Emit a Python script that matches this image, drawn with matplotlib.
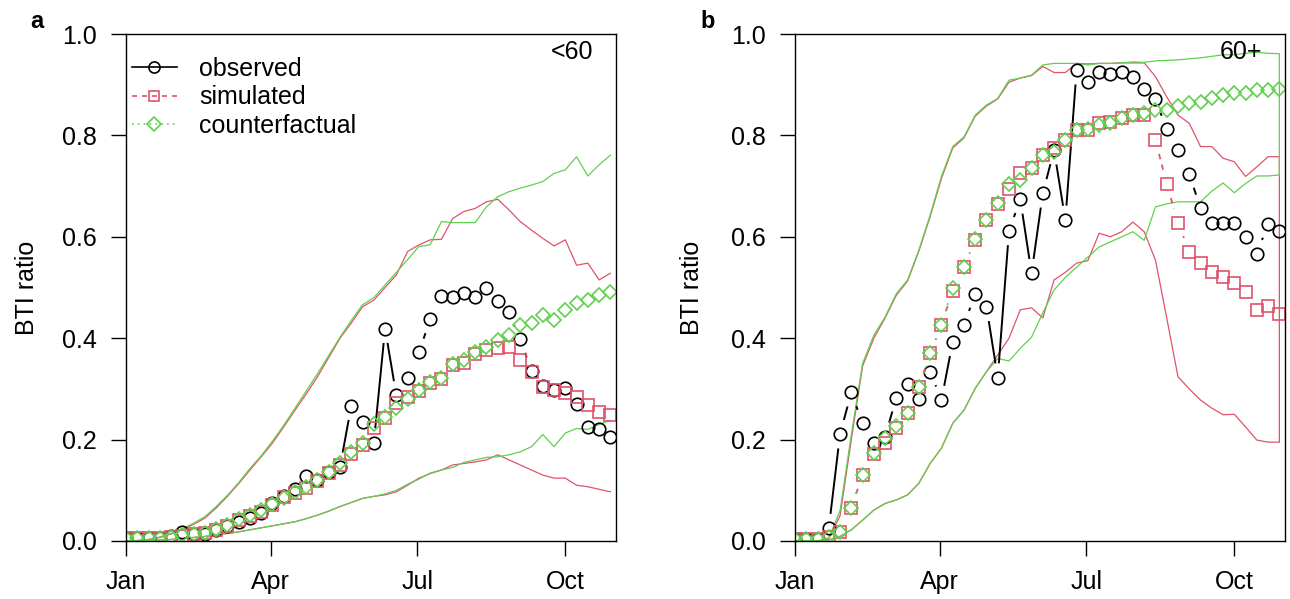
import numpy as np
import matplotlib
matplotlib.use("Agg")
import matplotlib.pyplot as plt
from matplotlib.collections import LineCollection
from matplotlib.lines import Line2D

plt.rcParams['font.family'] = ['Liberation Sans', 'DejaVu Sans']

RED = '#DF536B'
GREEN = '#61D04F'

# weekly values, week 0 = 1 Jan
weeks = np.arange(44)
month_days = [0, 90, 181, 273]
month_labels = ['Jan', 'Apr', 'Jul', 'Oct']

# ---- panel a (<60) ----
obs_a = [0.005, 0.005, 0.005, 0.006, 0.010, 0.017, 0.014, 0.013, 0.021, 0.030, 0.037, 0.046, 0.056, 0.074,
         0.088, 0.103, 0.129, 0.120, 0.137, 0.146, 0.267, 0.235, 0.194, 0.419, 0.287, 0.322, 0.372, 0.437,
         0.483, 0.481, 0.489, 0.482, 0.499, 0.473, 0.452, 0.398, 0.335, 0.305, 0.298, 0.302, 0.270, 0.225,
         0.220, 0.205]
sim_a = [0.005, 0.005, 0.005, 0.005, 0.007, 0.010, 0.013, 0.015, 0.022, 0.029, 0.041, 0.050, 0.058, 0.071,
         0.086, 0.094, 0.104, 0.118, 0.134, 0.150, 0.172, 0.190, 0.222, 0.243, 0.272, 0.285, 0.296, 0.312,
         0.319, 0.348, 0.352, 0.368, 0.377, 0.380, 0.383, 0.357, 0.334, 0.304, 0.298, 0.291, 0.285, 0.268,
         0.255, 0.249]
cf_a = [0.005, 0.005, 0.005, 0.005, 0.008, 0.011, 0.014, 0.016, 0.024, 0.031, 0.043, 0.051, 0.061, 0.073,
        0.084, 0.097, 0.106, 0.120, 0.137, 0.153, 0.176, 0.193, 0.230, 0.245, 0.262, 0.281, 0.298, 0.314,
        0.321, 0.350, 0.357, 0.373, 0.383, 0.396, 0.406, 0.426, 0.429, 0.446, 0.436, 0.456, 0.469, 0.475,
        0.485, 0.492]
sim_hi_a = [0.000, 0.001, 0.003, 0.007, 0.014, 0.022, 0.033, 0.045, 0.065, 0.088, 0.113, 0.140, 0.166, 0.193,
            0.225, 0.258, 0.290, 0.324, 0.362, 0.400, 0.430, 0.462, 0.475, 0.500, 0.525, 0.571, 0.584, 0.594,
            0.595, 0.636, 0.650, 0.656, 0.669, 0.674, 0.653, 0.630, 0.613, 0.597, 0.582, 0.594, 0.544, 0.548,
            0.515, 0.528]
cf_hi_a = [0.000, 0.001, 0.003, 0.008, 0.015, 0.024, 0.035, 0.048, 0.068, 0.090, 0.115, 0.143, 0.168, 0.197,
           0.228, 0.262, 0.296, 0.330, 0.366, 0.402, 0.435, 0.466, 0.480, 0.505, 0.530, 0.555, 0.581, 0.584,
           0.630, 0.628, 0.628, 0.628, 0.659, 0.679, 0.689, 0.696, 0.702, 0.709, 0.725, 0.732, 0.758, 0.720,
           0.742, 0.761]
sim_lo_a = [0.000, 0.000, 0.001, 0.002, 0.003, 0.005, 0.007, 0.009, 0.012, 0.015, 0.018, 0.022, 0.026, 0.030,
            0.034, 0.038, 0.044, 0.051, 0.059, 0.068, 0.076, 0.084, 0.088, 0.091, 0.097, 0.110, 0.124, 0.133,
            0.140, 0.150, 0.153, 0.156, 0.160, 0.170, 0.160, 0.150, 0.140, 0.130, 0.124, 0.124, 0.110, 0.107,
            0.102, 0.097]
cf_lo_a = [0.000, 0.000, 0.001, 0.002, 0.003, 0.005, 0.007, 0.009, 0.012, 0.015, 0.018, 0.022, 0.026, 0.030,
           0.034, 0.038, 0.044, 0.051, 0.059, 0.068, 0.076, 0.084, 0.088, 0.093, 0.100, 0.112, 0.122, 0.134,
           0.140, 0.145, 0.155, 0.160, 0.165, 0.166, 0.170, 0.176, 0.186, 0.210, 0.186, 0.213, 0.222, 0.220,
           0.230, 0.238]

# ---- panel b (60+) ----
obs_b = [0.003, 0.003, 0.003, 0.025, 0.211, 0.293, 0.232, 0.193, 0.206, 0.283, 0.310, 0.280, 0.334, 0.278,
         0.393, 0.427, 0.487, 0.462, 0.322, 0.612, 0.674, 0.528, 0.686, 0.771, 0.633, 0.929, 0.906, 0.926,
         0.921, 0.926, 0.916, 0.891, 0.871, 0.812, 0.771, 0.724, 0.656, 0.627, 0.627, 0.627, 0.599, 0.567,
         0.625, 0.612]
sim_b = [0.004, 0.004, 0.004, 0.008, 0.018, 0.066, 0.130, 0.172, 0.193, 0.222, 0.252, 0.303, 0.370, 0.426,
         0.494, 0.540, 0.594, 0.634, 0.665, 0.694, 0.725, 0.735, 0.761, 0.776, 0.790, 0.811, 0.811, 0.824,
         0.827, 0.834, 0.840, 0.840, 0.791, 0.704, 0.628, 0.571, 0.548, 0.531, 0.520, 0.508, 0.492, 0.456,
         0.464, 0.448]
cf_b = [0.004, 0.004, 0.004, 0.008, 0.018, 0.066, 0.131, 0.173, 0.204, 0.226, 0.253, 0.303, 0.371, 0.426,
        0.500, 0.540, 0.596, 0.634, 0.666, 0.705, 0.712, 0.735, 0.761, 0.768, 0.791, 0.811, 0.812, 0.820,
        0.825, 0.834, 0.840, 0.844, 0.850, 0.851, 0.858, 0.863, 0.865, 0.873, 0.880, 0.883, 0.883, 0.890,
        0.890, 0.891]
sim_hi_b = [0.000, 0.000, 0.000, 0.005, 0.050, 0.200, 0.345, 0.400, 0.440, 0.485, 0.513, 0.572, 0.640, 0.715,
            0.775, 0.795, 0.838, 0.858, 0.872, 0.905, 0.913, 0.918, 0.936, 0.924, 0.924, 0.942, 0.941, 0.942,
            0.942, 0.943, 0.943, 0.943, 0.916, 0.876, 0.840, 0.824, 0.778, 0.778, 0.755, 0.748, 0.719, 0.738,
            0.758, 0.758]
cf_hi_b = [0.000, 0.000, 0.000, 0.006, 0.060, 0.210, 0.350, 0.406, 0.442, 0.488, 0.515, 0.574, 0.643, 0.719,
           0.778, 0.797, 0.840, 0.860, 0.873, 0.909, 0.913, 0.919, 0.939, 0.942, 0.942, 0.942, 0.939, 0.942,
           0.942, 0.943, 0.945, 0.944, 0.947, 0.948, 0.949, 0.951, 0.953, 0.956, 0.959, 0.959, 0.962, 0.964,
           0.962, 0.961]
sim_lo_b = [0.000, 0.000, 0.000, 0.002, 0.009, 0.022, 0.041, 0.061, 0.074, 0.081, 0.091, 0.114, 0.153, 0.183,
            0.232, 0.258, 0.301, 0.334, 0.367, 0.400, 0.456, 0.460, 0.440, 0.515, 0.530, 0.548, 0.553, 0.607,
            0.600, 0.610, 0.629, 0.610, 0.554, 0.440, 0.324, 0.300, 0.278, 0.262, 0.249, 0.250, 0.225, 0.199,
            0.195, 0.195]
cf_lo_b = [0.000, 0.000, 0.000, 0.002, 0.009, 0.022, 0.041, 0.061, 0.074, 0.081, 0.091, 0.114, 0.153, 0.183,
           0.232, 0.258, 0.301, 0.334, 0.360, 0.355, 0.380, 0.402, 0.450, 0.495, 0.520, 0.540, 0.560, 0.580,
           0.590, 0.600, 0.610, 0.593, 0.659, 0.665, 0.669, 0.669, 0.669, 0.690, 0.706, 0.687, 0.705, 0.720,
           0.720, 0.722]

GAP = 14.5  # px between point centre and line end (R type="b")
FS = 18


def draw_b(ax, x, y, gap, **kw):
    # line segments that stop short of each point, like R's type="b"
    pts = ax.transData.transform(np.column_stack([x, y]))
    inv = ax.transData.inverted()
    segs = []
    for p0, p1 in zip(pts[:-1], pts[1:]):
        d = p1 - p0
        L = np.hypot(d[0], d[1])
        if L > 2 * gap:
            u = d / L
            segs.append(inv.transform(np.array([p0 + u * gap, p1 - u * gap])))
    ax.add_collection(LineCollection(segs, **kw))


fig = plt.figure(figsize=(12.9, 5.99), dpi=100)
ax_a = fig.add_axes([126 / 1290, 58 / 599, 490 / 1290, 507 / 599])
ax_b = fig.add_axes([795 / 1290, 58 / 599, 490 / 1290, 507 / 599])

panels = [
    (ax_a, obs_a, sim_a, cf_a, sim_hi_a, sim_lo_a, cf_hi_a, cf_lo_a, '<60', False),
    (ax_b, obs_b, sim_b, cf_b, sim_hi_b, sim_lo_b, cf_hi_b, cf_lo_b, '60+', True),
]

for ax, obs, sim, cf, shi, slo, chi, clo, tag, closed in panels:
    ax.set_xlim(0, 43.5)
    ax.set_ylim(0, 1)
    if closed:
        xx = np.concatenate([weeks, weeks[::-1]])
        ax.plot(xx, np.concatenate([shi, slo[::-1]]), color=RED, lw=0.9)
        ax.plot(xx, np.concatenate([chi, clo[::-1]]), color=GREEN, lw=0.9)
    else:
        ax.plot(weeks, shi, color=RED, lw=0.9)
        ax.plot(weeks, slo, color=RED, lw=0.9)
        ax.plot(weeks, chi, color=GREEN, lw=0.9)
        ax.plot(weeks, clo, color=GREEN, lw=0.9)

    draw_b(ax, weeks, obs, GAP, colors='black', linewidths=1.4)
    ax.plot(weeks, obs, ls='none', marker='o', ms=9, mfc='none', mec='black', mew=1.2)
    draw_b(ax, weeks, sim, GAP, colors=RED, linewidths=1.3, linestyles=[(0, (3, 3))])
    ax.plot(weeks, sim, ls='none', marker='s', ms=8, mfc='none', mec=RED, mew=1.2)
    draw_b(ax, weeks, cf, GAP, colors=GREEN, linewidths=1.3, linestyles=[(0, (1, 2.5))])
    ax.plot(weeks, cf, ls='none', marker='D', ms=7.5, mfc='none', mec=GREEN, mew=1.2)

    ax.set_xticks([d / 7 for d in month_days])
    ax.set_xticklabels(month_labels)
    ax.set_yticks(np.arange(0, 1.01, 0.2))
    ax.set_yticklabels(['%.1f' % v for v in np.arange(0, 1.01, 0.2)])
    ax.tick_params(direction='out', length=11, width=1, labelsize=FS, colors='black')
    ax.tick_params(axis='x', pad=10)
    ax.tick_params(axis='y', pad=10)
    for s in ax.spines.values():
        s.set_linewidth(1)
    ax.text(0.91, 0.965, tag, transform=ax.transAxes, ha='center', va='center', fontsize=FS)

handles = [
    Line2D([], [], color='black', lw=1.2, marker='o', ms=8, mfc='none', mec='black', mew=1.2),
    Line2D([], [], color=RED, lw=1.2, ls=(0, (3, 3)), marker='s', ms=7, mfc='none', mec=RED, mew=1.2),
    Line2D([], [], color=GREEN, lw=1.2, ls=(0, (1, 2.5)), marker='D', ms=7, mfc='none', mec=GREEN, mew=1.2),
]
ax_a.legend(handles, ['observed', 'simulated', 'counterfactual'], loc='upper left',
            bbox_to_anchor=(0.012, 0.955), frameon=False, fontsize=FS, handlelength=1.8,
            handletextpad=0.88, labelspacing=0.18, borderpad=0, borderaxespad=0)

fig.text(27 / 1290, 1 - 288 / 599, 'BTI ratio', rotation=90, ha='center', va='center', fontsize=FS)
fig.text(692 / 1290, 1 - 288 / 599, 'BTI ratio', rotation=90, ha='center', va='center', fontsize=FS)
fig.text(37 / 1290, 1 - 22 / 599, 'a', ha='center', va='center', fontsize=17, fontweight='bold')
fig.text(708 / 1290, 1 - 22 / 599, 'b', ha='center', va='center', fontsize=17, fontweight='bold')

fig.savefig('out.png', dpi=100, facecolor='white')
